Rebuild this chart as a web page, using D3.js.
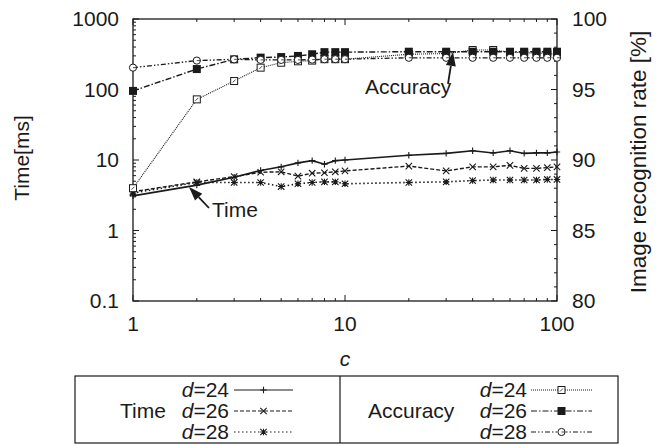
<!DOCTYPE html>
<html><head><meta charset="utf-8">
<script src="https://cdn.jsdelivr.net/npm/d3@7"></script>
<style>
html,body{margin:0;padding:0;background:#fff;}
svg{display:block;font-family:"Liberation Sans",Arial,sans-serif;}
</style></head>
<body><svg id="chart" width="662" height="446"></svg>
<script>
// ---- data ----
const cValues = [1,2,3,4,5,6,7,8,9,10,20,30,40,50,60,70,80,90,100];
const timeD24 = [3.1,4.4,5.7,7.1,8.0,9.1,9.8,8.7,9.8,10,11.7,12.4,13.5,12.6,13.5,12.4,12.6,12.6,13.0];
const timeD26 = [3.55,4.9,5.8,6.7,6.8,5.9,6.5,6.6,6.8,7.0,8.2,7.0,8.0,8.0,8.4,7.6,7.6,7.8,8.0];
const timeD28 = [3.4,4.8,4.8,4.8,4.2,4.6,4.8,4.9,4.9,4.6,4.8,4.9,5.1,5.2,5.2,5.2,5.2,5.3,5.3];
const accD24 = [88.0,94.3,95.6,96.55,96.9,97.0,97.05,97.15,97.15,97.15,97.5,97.55,97.8,97.8,97.65,97.6,97.6,97.55,97.5];
const accD26 = [94.9,96.45,97.14,97.26,97.3,97.38,97.5,97.65,97.65,97.65,97.68,97.68,97.68,97.68,97.68,97.68,97.68,97.68,97.68];
const accD28 = [96.55,97.05,97.14,97.1,97.1,97.1,97.12,97.15,97.15,97.15,97.25,97.25,97.25,97.25,97.25,97.25,97.25,97.25,97.25];
const timeTicks = [0.1,1,10,100,1000];
const timeTickLabels = ["0.1","1","10","100","1000"];
const accTicks = [80,85,90,95,100];
const xTicks = [1,10,100];
const legendLabels = ["24","26","28"];

// ---- layout ----
const L = 133, R = 557, T = 19, B = 301;
const ink = "#1a1a1a";
const svg = d3.select("#chart");
const x = d3.scaleLog().domain([1,100]).range([L,R]);
const yT = d3.scaleLog().domain([0.1,1000]).range([B,T]);
const yA = d3.scaleLinear().domain([80,100]).range([B,T]);

const xMinor = [];
[1,10].forEach(b=>{for(let k=2;k<=9;k++) xMinor.push(b*k);});
const yMinor = [];
[0.1,1,10,100].forEach(b=>{for(let k=2;k<=9;k++) yMinor.push(b*k);});
const aMinor = d3.range(80,101,1).filter(v=>v%5!==0);

const g = svg.append("g");
function tickLines(sel, data, fn){ sel.selectAll(null).data(data).enter().append("line").attr("stroke",ink).attr("stroke-width",1).each(fn); }
const tk = g.append("g");
tickLines(tk, xTicks, function(d){d3.select(this).attr("x1",x(d)).attr("x2",x(d)).attr("y1",B).attr("y2",B-6);});
tickLines(tk, xMinor, function(d){d3.select(this).attr("x1",x(d)).attr("x2",x(d)).attr("y1",B).attr("y2",B-3);});
tickLines(tk, xTicks, function(d){d3.select(this).attr("x1",x(d)).attr("x2",x(d)).attr("y1",T).attr("y2",T+6);});
tickLines(tk, xMinor, function(d){d3.select(this).attr("x1",x(d)).attr("x2",x(d)).attr("y1",T).attr("y2",T+3);});
tickLines(tk, timeTicks, function(d){d3.select(this).attr("x1",L).attr("x2",L+6).attr("y1",yT(d)).attr("y2",yT(d));});
tickLines(tk, yMinor, function(d){d3.select(this).attr("x1",L).attr("x2",L+3).attr("y1",yT(d)).attr("y2",yT(d));});
tickLines(tk, accTicks, function(d){d3.select(this).attr("x1",R).attr("x2",R-6).attr("y1",yA(d)).attr("y2",yA(d));});
tickLines(tk, aMinor, function(d){d3.select(this).attr("x1",R).attr("x2",R-3).attr("y1",yA(d)).attr("y2",yA(d));});

g.append("rect").attr("x",L).attr("y",T).attr("width",R-L).attr("height",B-T)
 .attr("fill","none").attr("stroke",ink).attr("stroke-width",1.3);

const fs = 21;
g.selectAll(".xl").data(xTicks).enter().append("text").attr("x",d=>x(d)).attr("y",B+30)
 .attr("text-anchor","middle").attr("font-size",fs).attr("fill",ink).text(d=>d);
g.selectAll(".yl").data(timeTicks).enter().append("text").attr("x",L-14).attr("y",d=>yT(d)+7)
 .attr("text-anchor","end").attr("font-size",fs).attr("fill",ink).text((d,i)=>timeTickLabels[i]);
g.selectAll(".al").data(accTicks).enter().append("text").attr("x",R+15).attr("y",d=>yA(d)+7)
 .attr("text-anchor","start").attr("font-size",fs).attr("fill",ink).text(d=>d);

g.append("text").attr("transform","translate(29,158) rotate(-90)").attr("text-anchor","middle")
 .attr("font-size",fs).attr("fill",ink).text("Time[ms]");
g.append("text").attr("transform","translate(646,162) rotate(-90)").attr("text-anchor","middle")
 .attr("font-size",22.5).attr("fill",ink).text("Image recognition rate [%]");
g.append("text").attr("x",(L+R)/2).attr("y",366).attr("text-anchor","middle")
 .attr("font-size",fs).attr("font-style","italic").attr("fill",ink).text("c");

const series = [
 {vals:timeD24, y:yT, dash:null, w:1.6, m:"plus"},
 {vals:timeD26, y:yT, dash:"4,2", w:1.4, m:"cross"},
 {vals:timeD28, y:yT, dash:"1.5,2.5", w:1.6, m:"star"},
 {vals:accD24, y:yA, dash:"1,1", w:1.1, m:"osq"},
 {vals:accD26, y:yA, dash:"6,2,1.5,2", w:1.4, m:"fsq"},
 {vals:accD28, y:yA, dash:"5,2,1.5,2,1.5,2", w:1.3, m:"circ"}
];
function marker(sel, type, cx, cy){
  const s = 3.2;
  if(type==="plus"){
    sel.append("path").attr("d",`M${cx-s},${cy}H${cx+s}M${cx},${cy-s}V${cy+s}`).attr("stroke",ink).attr("stroke-width",1.1).attr("fill","none");
  } else if(type==="cross"){
    sel.append("path").attr("d",`M${cx-s},${cy-s}L${cx+s},${cy+s}M${cx-s},${cy+s}L${cx+s},${cy-s}`).attr("stroke",ink).attr("stroke-width",1.1).attr("fill","none");
  } else if(type==="star"){
    sel.append("path").attr("d",`M${cx-s},${cy}H${cx+s}M${cx},${cy-s}V${cy+s}M${cx-s},${cy-s}L${cx+s},${cy+s}M${cx-s},${cy+s}L${cx+s},${cy-s}`).attr("stroke",ink).attr("stroke-width",1.1).attr("fill","none");
  } else if(type==="osq"){
    sel.append("rect").attr("x",cx-3.5).attr("y",cy-3.5).attr("width",7).attr("height",7).attr("fill","#fff").attr("stroke",ink).attr("stroke-width",1);
    sel.append("path").attr("d",`M${cx-1.5},${cy+1.5}L${cx+1.5},${cy-1.5}`).attr("stroke",ink).attr("stroke-width",0.8);
  } else if(type==="fsq"){
    sel.append("rect").attr("x",cx-4).attr("y",cy-4).attr("width",8).attr("height",8).attr("fill",ink);
  } else if(type==="circ"){
    sel.append("circle").attr("cx",cx).attr("cy",cy).attr("r",3.6).attr("fill","#fff").attr("stroke",ink).attr("stroke-width",1);
    sel.append("path").attr("d",`M${cx},${cy}H${cx+3.6}`).attr("stroke",ink).attr("stroke-width",0.8);
  }
}
const plot = g.append("g");
series.forEach(s=>{
  const line = d3.line().x((d,i)=>x(cValues[i])).y(d=>s.y(d));
  plot.append("path").datum(s.vals).attr("d",line).attr("fill","none").attr("stroke",ink)
   .attr("stroke-width",s.w).attr("stroke-dasharray",s.dash);
});
series.forEach(s=>{
  const mg = plot.append("g");
  s.vals.forEach((v,i)=>marker(mg, s.m, x(cValues[i]), s.y(v)));
});

function arrow(x1,y1,x2,y2){
  const a = Math.atan2(y2-y1,x2-x1), len=14, hw=5;
  const bx = x2-len*Math.cos(a), by = y2-len*Math.sin(a);
  g.append("line").attr("x1",x1).attr("y1",y1).attr("x2",bx).attr("y2",by).attr("stroke",ink).attr("stroke-width",1.8);
  g.append("path").attr("d",`M${x2},${y2}L${bx+hw*Math.sin(a)},${by-hw*Math.cos(a)}L${bx-hw*Math.sin(a)},${by+hw*Math.cos(a)}Z`).attr("fill",ink);
}
g.append("text").attr("x",365).attr("y",94).attr("font-size",fs).attr("fill",ink).text("Accuracy");
arrow(448,84,453,52);
g.append("text").attr("x",212).attr("y",217).attr("font-size",fs).attr("fill",ink).text("Time");
arrow(209,208,189,187);

// legend
const LG = {l:75, r:618, t:376, b:443, div:340};
const lg = svg.append("g");
lg.append("rect").attr("x",LG.l).attr("y",LG.t).attr("width",LG.r-LG.l).attr("height",LG.b-LG.t)
 .attr("fill","none").attr("stroke",ink).attr("stroke-width",1.2);
lg.append("line").attr("x1",LG.div).attr("x2",LG.div).attr("y1",LG.t).attr("y2",LG.b).attr("stroke",ink).attr("stroke-width",1.2);
const rowsY = [390,411,432];
lg.append("text").attr("x",120).attr("y",rowsY[1]+7).attr("font-size",fs).attr("fill",ink).text("Time");
lg.append("text").attr("x",368).attr("y",rowsY[1]+7).attr("font-size",fs).attr("fill",ink).text("Accuracy");
const cols = [{tx:229, l0:234, l1:293, set:[0,1,2]},{tx:527, l0:531, l1:592, set:[3,4,5]}];
cols.forEach(col=>{
  col.set.forEach((si,j)=>{
    const s = series[si], yy = rowsY[j];
    const t = lg.append("text").attr("x",col.tx).attr("y",yy+7).attr("text-anchor","end").attr("font-size",fs).attr("fill",ink);
    t.append("tspan").attr("font-style","italic").text("d");
    t.append("tspan").text("="+legendLabels[j]);
    lg.append("line").attr("x1",col.l0).attr("x2",col.l1).attr("y1",yy).attr("y2",yy).attr("stroke",ink)
      .attr("stroke-width",Math.min(s.w,1.2)).attr("stroke-dasharray",s.dash);
    marker(lg, s.m, (col.l0+col.l1)/2, yy);
  });
});
</script></body></html>
